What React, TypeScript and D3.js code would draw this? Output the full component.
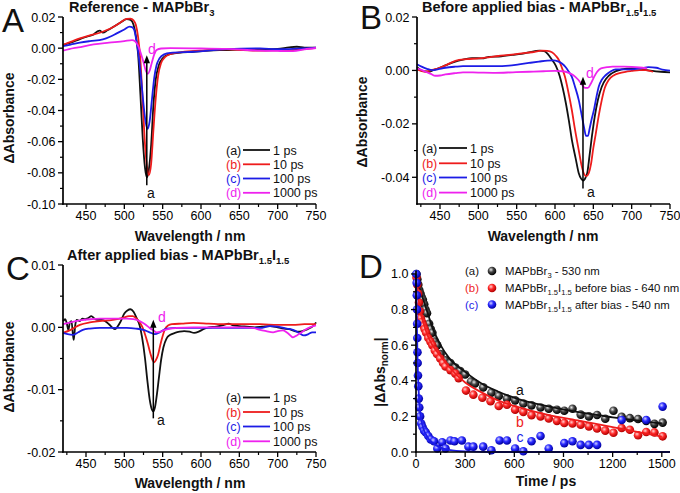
import React from "react";
import * as d3 from "d3";

const FONT = "'Liberation Sans', Arial, Helvetica, sans-serif";
const COL = ["#111111", "#ee1c1c", "#1c1ce6", "#ee22ee"];

type P = [number, number][];

// ---------- Panel A: Reference - MAPbBr3 ----------
const aBlack1ps: P = [[420,0.002],[430,0.0035],[442,0.0058],[452,0.0075],[460,0.0088],[465,0.0108],[468,0.0112],[472,0.0100],[478,0.0115],[486,0.0138],[495,0.0165],[503,0.0186],[508,0.0182],[512,0.0150],[515,0.0080],[518,-0.004],[521,-0.030],[524,-0.058],[527,-0.077],[529.5,-0.083],[532,-0.078],[535,-0.062],[538,-0.036],[541,-0.020],[545,-0.011],[550,-0.0065],[556,-0.0044],[570,-0.003],[590,-0.0023],[610,-0.0015],[633,-0.0012],[655,-0.0008],[677,-0.0008],[700,-0.0004],[715,0.0005],[725,0.0009],[735,0.0004],[750,0.0003]];
const aRed10ps: P = [[420,0.0022],[430,0.004],[442,0.0063],[455,0.0082],[468,0.0099],[478,0.0118],[486,0.0138],[495,0.0165],[503,0.0188],[508,0.0190],[512,0.0178],[515,0.0150],[518,0.007],[521,-0.008],[524,-0.035],[527,-0.062],[530,-0.078],[532,-0.0815],[535,-0.074],[538,-0.052],[541,-0.032],[544,-0.018],[548,-0.0095],[553,-0.0058],[560,-0.0038],[575,-0.0025],[600,-0.0016],[633,-0.0008],[655,-0.0012],[677,-0.0016],[700,-0.0014],[720,-0.0012],[735,-0.0006],[750,0.0001]];
const aBlue100ps: P = [[420,0.0013],[430,0.0023],[442,0.0035],[455,0.0045],[472,0.0056],[482,0.0075],[490,0.0095],[500,0.0120],[507,0.0138],[510,0.0135],[513,0.0115],[516,0.0040],[519,-0.006],[522,-0.020],[525,-0.036],[528,-0.048],[530.5,-0.0518],[533,-0.047],[536,-0.033],[539,-0.019],[542,-0.011],[546,-0.0065],[552,-0.004],[560,-0.003],[590,-0.0023],[633,-0.0006],[677,-0.0002],[700,-0.0006],[720,-0.0004],[750,0.0003]];
const aMag1000ps: P = [[420,-0.0016],[428,-0.0006],[440,0.0005],[460,0.0024],[480,0.0035],[500,0.0045],[510,0.0052],[514,0.0045],[518,0.0015],[522,-0.004],[525,-0.009],[528,-0.0145],[530.5,-0.0165],[533,-0.0145],[536,-0.009],[539,-0.004],[542,-0.0012],[548,-0.0002],[560,0.0],[600,-0.0002],[633,-0.0004],[677,-0.0016],[700,-0.0018],[720,-0.0019],[735,-0.0008],[750,0.0001]];

// ---------- Panel B: Before applied bias ----------
const bBlack1ps: P = [[420,0.0012],[427,-0.0002],[435,-0.0005],[442,0.0002],[448,0.0008],[458,0.002],[470,0.0033],[480,0.004],[492,0.0046],[505,0.0045],[514,0.0051],[530,0.0053],[544,0.0058],[556,0.0062],[566,0.0068],[580,0.0074],[586,0.0072],[591,0.006],[596,0.004],[601,0.0018],[606,-0.002],[610,-0.0065],[614,-0.012],[618,-0.0186],[622,-0.026],[627,-0.033],[631,-0.0385],[634,-0.0405],[637,-0.0412],[640,-0.040],[642,-0.0385],[645,-0.032],[648,-0.025],[652,-0.017],[656,-0.011],[661,-0.0061],[667,-0.003],[674,-0.0011],[687,0.0004],[700,0.0008],[710,0.0008],[718,0.0002],[727,-0.0002],[738,-0.0005],[750,-0.0007]];
const bRed10ps: P = [[420,0.0004],[431,-0.0005],[440,0.0002],[448,0.0008],[458,0.002],[470,0.0036],[485,0.0042],[500,0.0045],[515,0.005],[526,0.0054],[540,0.0058],[557,0.0064],[570,0.0068],[583,0.0074],[590,0.0073],[596,0.0068],[601,0.0055],[605,0.0039],[609,0.001],[613,-0.0024],[617,-0.0075],[622,-0.0149],[626,-0.022],[631,-0.0299],[635,-0.036],[638,-0.0388],[641,-0.0396],[644,-0.0385],[647,-0.035],[650,-0.029],[653,-0.024],[657,-0.017],[661,-0.0111],[665,-0.0065],[670,-0.0036],[677,-0.0018],[683,-0.0011],[692,-0.0005],[700,-0.0002],[710,0.0001],[718,0.0001],[728,-0.0005]];
const bBlue100ps: P = [[420,0.0023],[426,0.0014],[433,0.0006],[440,0.0001],[448,0.0005],[457,0.001],[470,0.0014],[480,0.0016],[500,0.0016],[522,0.0016],[540,0.0018],[553,0.0023],[566,0.0028],[579,0.0033],[590,0.0037],[598,0.0038],[604,0.0034],[609,0.0026],[614,0.0012],[618,-0.0005],[622,-0.0024],[626,-0.006],[631,-0.0111],[635,-0.017],[638,-0.0215],[640.5,-0.0245],[643,-0.0245],[645,-0.022],[648,-0.018],[651,-0.0145],[654,-0.010],[657,-0.0061],[661,-0.0035],[666,-0.0018],[672,-0.0005],[679,0.0004],[690,0.0004],[700,0.0004],[712,0.0008],[722,0.0012],[732,0.001],[740,0.0003],[750,-0.0001]];
const bMag1000ps: P = [[420,0.0008],[426,0.0002],[431,-0.0005],[438,-0.0013],[444,-0.002],[450,-0.0019],[457,-0.0015],[470,-0.001],[480,-0.0007],[500,-0.0008],[522,-0.0009],[545,-0.0007],[566,-0.0005],[585,-0.0003],[600,-0.0002],[610,-0.0003],[618,-0.0009],[624,-0.0018],[630,-0.0034],[635,-0.0052],[639,-0.0065],[643,-0.0065],[647,-0.0048],[651,-0.0024],[655,-0.0005],[660,0.0008],[668,0.0012],[675,0.0014],[690,0.0014],[700,0.0013],[710,0.0011],[720,0.0008]];

// ---------- Panel C: After applied bias ----------
const cBlack1ps: P = [[420,0.0010],[423,0.0013],[425,0.0006],[427,-0.0004],[429,0.0008],[431,0.0010],[433,-0.0012],[434,-0.0020],[436,0.0004],[438,0.0012],[442,0.0010],[445,0.0014],[449,0.0013],[453,0.0015],[457,0.0018],[461,0.0014],[465,0.0012],[470,0.0012],[475,0.0010],[480,0.0005],[484,0.0],[488,-0.0003],[491,0.0001],[495,0.0009],[500,0.0022],[504,0.0027],[508,0.0029],[512,0.0025],[516,0.0015],[520,0.0003],[523,-0.0015],[527,-0.0050],[530,-0.0085],[533,-0.0115],[536,-0.0132],[538,-0.0135],[540,-0.0128],[542,-0.0112],[545,-0.0082],[548,-0.0052],[551,-0.0032],[555,-0.0018],[560,-0.0012],[566,-0.0009],[572,-0.0007],[578,-0.0006],[585,-0.0007],[591,-0.0009],[597,-0.0007],[603,-0.0003],[610,0.0],[620,0.0001],[630,0.0004],[636,0.0006],[642,0.0003],[650,0.0002],[660,0.0001],[670,0.0],[680,0.0001],[690,0.0002],[700,0.0],[708,-0.0002],[715,-0.0003],[722,-0.0006],[728,-0.0007],[735,-0.0005],[742,-0.0001],[748,0.0004],[750,0.0008]];
const cRed10ps: P = [[420,-0.0009],[430,-0.0004],[442,0.0004],[455,0.0008],[468,0.001],[485,0.0012],[498,0.0015],[506,0.0018],[511,0.0018],[516,0.0014],[520,0.0008],[524,-0.0001],[528,-0.0015],[531,-0.0028],[534,-0.0042],[537,-0.0053],[539,-0.0056],[541,-0.0053],[544,-0.0044],[547,-0.0028],[550,-0.0014],[553,-0.0003],[557,0.0003],[562,0.0005],[575,0.0006],[590,0.0007],[610,0.0006],[633,0.0005],[655,0.0005],[677,0.0005],[700,0.0004],[720,0.0004],[735,0.0005],[750,0.0005]];
const cBlue100ps: P = [[420,-0.0009],[426,-0.0011],[433,-0.0012],[440,-0.0008],[446,-0.0004],[455,-0.0002],[468,-0.0001],[485,-0.0001],[503,-0.0001],[515,-0.0002],[525,-0.0004],[533,-0.0008],[540,-0.0011],[546,-0.0008],[555,-0.0002],[570,-0.0001],[590,-0.0001],[610,-0.0001],[633,-0.0001],[655,-0.0001],[677,-0.0001],[690,0.0002],[700,0.0001],[712,-0.0002],[720,-0.0004],[728,-0.0009],[734,-0.0013],[740,-0.0011],[745,-0.0008],[750,-0.0008]];
const cMag1000ps: P = [[420,0.0005],[430,0.0008],[442,0.0011],[455,0.0013],[468,0.0014],[485,0.0014],[503,0.0014],[512,0.0013],[520,0.001],[527,0.0005],[533,-0.0001],[538,-0.0005],[542,-0.0008],[547,-0.0007],[551,-0.0005],[560,-0.0002],[568,-0.0001],[590,0.0],[612,0.0],[633,0.0],[655,0.0],[668,-0.0001],[677,-0.0004],[685,-0.0006],[694,-0.0008],[700,-0.0006],[707,-0.0005],[713,-0.0009],[720,-0.0016],[725,-0.0013],[729,-0.001],[736,-0.0004],[742,0.0],[750,0.0003]];

// ---------- Panel D: kinetics ----------
const dBlackPts: P = [[3,1.0],[8,0.97],[14,0.94],[20,0.91],[27,0.89],[34,0.87],[42,0.855],[50,0.83],[58,0.8],[67,0.78],[80,0.72],[90,0.69],[100,0.67],[115,0.62],[130,0.6],[150,0.55],[180,0.515],[210,0.5],[240,0.475],[270,0.455],[300,0.435],[335,0.395],[360,0.385],[410,0.363],[460,0.333],[505,0.315],[555,0.3],[605,0.29],[655,0.272],[705,0.262],[760,0.25],[810,0.243],[860,0.237],[905,0.232],[955,0.243],[1005,0.21],[1055,0.2],[1105,0.208],[1155,0.187],[1205,0.232],[1255,0.198],[1305,0.19],[1355,0.185],[1405,0.175],[1455,0.158],[1505,0.165]];
const dBlackFit: P = [[0,1.0],[10,0.96],[25,0.91],[50,0.84],[75,0.77],[100,0.7],[150,0.6],[200,0.53],[300,0.45],[400,0.385],[500,0.34],[650,0.29],[800,0.258],[1000,0.222],[1200,0.195],[1500,0.16]];
const dRedPts: P = [[3,0.98],[8,0.94],[13,0.89],[18,0.84],[24,0.79],[30,0.75],[37,0.73],[45,0.71],[53,0.69],[62,0.67],[75,0.64],[88,0.62],[100,0.6],[115,0.57],[128,0.55],[148,0.525],[165,0.5],[180,0.48],[210,0.46],[240,0.44],[260,0.415],[305,0.345],[350,0.322],[405,0.305],[455,0.285],[505,0.258],[555,0.265],[605,0.238],[655,0.225],[705,0.207],[760,0.2],[810,0.188],[860,0.175],[905,0.163],[955,0.16],[1005,0.153],[1055,0.144],[1105,0.132],[1155,0.12],[1205,0.108],[1255,0.135],[1305,0.125],[1355,0.094],[1405,0.112],[1455,0.11],[1505,0.088]];
const dRedFit: P = [[0,0.98],[10,0.9],[25,0.8],[50,0.71],[75,0.645],[100,0.6],[150,0.54],[200,0.48],[300,0.39],[400,0.335],[500,0.29],[650,0.245],[800,0.21],[1000,0.175],[1200,0.14],[1500,0.087]];
const dBluePts: P = [[2,1.0],[4,0.95],[5,0.88],[6,0.8],[7,0.72],[8,0.64],[9,0.56],[10,0.5],[12,0.43],[14,0.37],[17,0.3],[20,0.25],[25,0.2],[32,0.16],[40,0.14],[50,0.12],[60,0.11],[75,0.09],[90,0.07],[110,0.06],[130,0.02],[160,0.055],[180,0.02],[210,0.065],[235,0.06],[280,0.065],[320,0.03],[350,0.03],[410,0.03],[460,0.01],[510,0.065],[555,0.065],[605,0.02],[655,0.004],[705,0.06],[760,0.09],[810,0.02],[905,0.05],[955,0.06],[1005,0.04],[1055,0.04],[1105,0.04],[1255,0.18],[1405,0.18],[1505,0.255]];
const dBlueFit: P = [[0,1.0],[3,0.85],[6,0.68],[10,0.5],[15,0.37],[20,0.28],[30,0.19],[45,0.13],[60,0.1],[80,0.07],[110,0.045],[150,0.025],[200,0.012],[300,0.003],[500,0.0],[1550,0.0]];

// ---------- ticks & labels ----------
const wavelengthTicks = [450, 500, 550, 600, 650, 700, 750];
const wavelengthMinor = [425, 475, 525, 575, 625, 675, 725];
const aYTicks = [0.02, 0, -0.02, -0.04, -0.06, -0.08, -0.1];
const aYMinor = [0.01, -0.01, -0.03, -0.05, -0.07, -0.09];
const bYTicks = [0.02, 0, -0.02, -0.04];
const bYMinor = [0.01, -0.01, -0.03];
const cYTicks = [0.01, 0, -0.01, -0.02];
const cYMinor = [0.005, -0.005, -0.015];
const timeTicks = [0, 300, 600, 900, 1200, 1500];
const timeMinor = [150, 450, 750, 1050, 1350];
const dYTicks = [0, 0.2, 0.4, 0.6, 0.8, 1.0];
const dYMinor = [0.1, 0.3, 0.5, 0.7, 0.9];
const seriesTags = ["(a)", "(b)", "(c)", "(d)"];
const delayLabels = ["1 ps", "10 ps", "100 ps", "1000 ps"];

type Scale = d3.ScaleLinear<number, number>;

function Axes({ x, y, xTicks, xMinor, yTicks, yMinor, xFmt, yFmt }: {
  x: Scale; y: Scale; xTicks: number[]; xMinor: number[]; yTicks: number[]; yMinor: number[];
  xFmt: (v: number) => string; yFmt: (v: number) => string;
}) {
  const [x0, x1] = x.range();
  const [yb, yt] = y.range();
  return (
    <g>
      <line x1={x0} x2={x0} y1={yb + 0.8} y2={yt} stroke="#000" strokeWidth={1.7} />
      <line x1={x0 - 0.8} x2={x1} y1={yb} y2={yb} stroke="#000" strokeWidth={1.7} />
      {yTicks.map((v) => (
        <g key={"y" + v}>
          <line x1={x0 - 5} x2={x0} y1={y(v)} y2={y(v)} stroke="#000" strokeWidth={1.3} />
          <text x={x0 - 7.5} y={y(v)} dy="0.36em" textAnchor="end" fontSize={12.5}>{yFmt(v)}</text>
        </g>
      ))}
      {yMinor.map((v) => (
        <line key={"ym" + v} x1={x0 - 3} x2={x0} y1={y(v)} y2={y(v)} stroke="#000" strokeWidth={1.2} />
      ))}
      {xTicks.map((v) => (
        <g key={"x" + v}>
          <line x1={x(v)} x2={x(v)} y1={yb} y2={yb + 5} stroke="#000" strokeWidth={1.3} />
          <text x={x(v)} y={yb + 15.5} textAnchor="middle" fontSize={12.5}>{xFmt(v)}</text>
        </g>
      ))}
      {xMinor.map((v) => (
        <line key={"xm" + v} x1={x(v)} x2={x(v)} y1={yb} y2={yb + 3} stroke="#000" strokeWidth={1.2} />
      ))}
    </g>
  );
}

function Arrow({ x, y1, y2 }: { x: number; y1: number; y2: number }) {
  return (
    <g>
      <line x1={x} x2={x} y1={y1} y2={y2 + 6} stroke="#000" strokeWidth={1.5} />
      <path d={`M${x},${y2} L${x - 3.2},${y2 + 8} L${x + 3.2},${y2 + 8} Z`} fill="#000" />
    </g>
  );
}

function SpecLegend({ tagX, lineX1, lineX2, textX, rows }: { tagX: number; lineX1: number; lineX2: number; textX: number; rows: number[] }) {
  return (
    <g fontSize={12.5}>
      {rows.map((cy, i) => (
        <g key={i}>
          <text x={tagX} y={cy} dy="0.36em" fill={COL[i]}>{seriesTags[i]}</text>
          <line x1={lineX1} x2={lineX2} y1={cy} y2={cy} stroke={COL[i]} strokeWidth={1.8} />
          <text x={textX} y={cy} dy="0.36em" fill="#111">{delayLabels[i]}</text>
        </g>
      ))}
    </g>
  );
}

function Lines({ x, y, series }: { x: Scale; y: Scale; series: P[] }) {
  const gen = d3.line<[number, number]>().x((d) => x(d[0])).y((d) => y(d[1])).curve(d3.curveMonotoneX);
  return (
    <g>
      {series.map((s, i) => (
        <path key={i} d={gen(s) || ""} fill="none" stroke={COL[i]} strokeWidth={1.8} strokeLinejoin="round" />
      ))}
    </g>
  );
}

const fmt2 = (v: number) => v.toFixed(2);
const fmt1 = (v: number) => v.toFixed(1);
const fmt0 = (v: number) => String(v);

export default function App() {
  const xA = d3.scaleLinear().domain([420, 750]).range([63, 316]);
  const yA = d3.scaleLinear().domain([-0.1, 0.02]).range([204, 17]);
  const xB = d3.scaleLinear().domain([420, 750]).range([417, 670]);
  const yB = d3.scaleLinear().domain([-0.05, 0.02]).range([204, 17]);
  const xC = d3.scaleLinear().domain([420, 750]).range([63, 316]);
  const yC = d3.scaleLinear().domain([-0.02, 0.01]).range([452, 265]);
  const xD = d3.scaleLinear().domain([0, 1550]).range([416, 670]);
  const yD = d3.scaleLinear().domain([0, 1.02]).range([452, 270.4]);

  const fitGen = d3.line<[number, number]>().x((d) => xD(d[0])).y((d) => yD(d[1])).curve(d3.curveMonotoneX);
  const dSets = [
    { pts: dBlackPts, fit: dBlackFit, grad: "gBlack", col: COL[0] },
    { pts: dRedPts, fit: dRedFit, grad: "gRed", col: COL[1] },
    { pts: dBluePts, fit: dBlueFit, grad: "gBlue", col: COL[2] },
  ];

  const subStyle = { fontSize: 9.5 } as const;
  const legSub = 7.6;

  return (
    <svg width={680} height={493} style={{ position: "absolute", left: 0, top: 0, display: "block" }} fontFamily={FONT}>
      <defs>
        <radialGradient id="gBlack" cx="0.38" cy="0.35" r="0.65">
          <stop offset="0" stopColor="#e8e8e8" />
          <stop offset="0.45" stopColor="#444" />
          <stop offset="1" stopColor="#000" />
        </radialGradient>
        <radialGradient id="gRed" cx="0.38" cy="0.35" r="0.65">
          <stop offset="0" stopColor="#ffd0d0" />
          <stop offset="0.45" stopColor="#ff2a2a" />
          <stop offset="1" stopColor="#b00000" />
        </radialGradient>
        <radialGradient id="gBlue" cx="0.38" cy="0.35" r="0.65">
          <stop offset="0" stopColor="#d0d0ff" />
          <stop offset="0.45" stopColor="#2a2aff" />
          <stop offset="1" stopColor="#0000a0" />
        </radialGradient>
      </defs>
      <rect width={680} height={493} fill="#fff" />

      {/* Panel letters */}
      <text x={2} y={32} fontSize={33} fill="#111">A</text>
      <text x={360} y={29} fontSize={33} fill="#111">B</text>
      <text x={6} y={280} fontSize={33} fill="#111">C</text>
      <text x={359} y={278} fontSize={33} fill="#111">D</text>

      {/* Titles */}
      <text x={69} y={11.5} fontSize={14.5} fontWeight="bold" fill="#111">
        Reference - MAPbBr<tspan style={subStyle} dy={4}>3</tspan>
      </text>
      <text x={422} y={12} fontSize={14.5} fontWeight="bold" fill="#111">
        Before applied bias - MAPbBr<tspan style={subStyle} dy={4}>1.5</tspan>
        <tspan dy={-4}>I</tspan><tspan style={subStyle} dy={4}>1.5</tspan>
      </text>
      <text x={67} y={260} fontSize={14.5} fontWeight="bold" fill="#111">
        After applied bias - MAPbBr<tspan style={subStyle} dy={4}>1.5</tspan>
        <tspan dy={-4}>I</tspan><tspan style={subStyle} dy={4}>1.5</tspan>
      </text>

      {/* Axis titles */}
      <text transform="translate(14,118) rotate(-90)" textAnchor="middle" fontSize={14} fontWeight="bold" fill="#111">ΔAbsorbance</text>
      <text transform="translate(367,122) rotate(-90)" textAnchor="middle" fontSize={14} fontWeight="bold" fill="#111">ΔAbsorbance</text>
      <text transform="translate(14,367) rotate(-90)" textAnchor="middle" fontSize={14} fontWeight="bold" fill="#111">ΔAbsorbance</text>
      <text transform="translate(385,372) rotate(-90)" textAnchor="middle" fontSize={14} fontWeight="bold" fill="#111">
        |ΔAbs<tspan fontSize={10} dy={3}>norm</tspan><tspan dy={-3}>|</tspan>
      </text>
      <text x={190} y={241} textAnchor="middle" fontSize={14} fontWeight="bold" fill="#111">Wavelength / nm</text>
      <text x={543} y={241} textAnchor="middle" fontSize={14} fontWeight="bold" fill="#111">Wavelength / nm</text>
      <text x={190} y={488} textAnchor="middle" fontSize={14} fontWeight="bold" fill="#111">Wavelength / nm</text>
      <text x={546} y={486} textAnchor="middle" fontSize={14} fontWeight="bold" fill="#111">Time / ps</text>

      {/* Panel A */}
      <Lines x={xA} y={yA} series={[aBlack1ps, aRed10ps, aBlue100ps, aMag1000ps]} />
      <Arrow x={xA(529.3)} y1={yA(-0.088)} y2={yA(-0.0045)} />
      <text x={151} y={193} dy="0.36em" textAnchor="middle" fontSize={14} fill="#111">a</text>
      <text x={152} y={49} dy="0.36em" textAnchor="middle" fontSize={14} fill={COL[3]}>d</text>
      <SpecLegend tagX={226} lineX1={243} lineX2={270} textX={273} rows={[150, 164.3, 178.5, 192.8]} />
      <Axes x={xA} y={yA} xTicks={wavelengthTicks} xMinor={wavelengthMinor} yTicks={aYTicks} yMinor={aYMinor} xFmt={fmt0} yFmt={fmt2} />

      {/* Panel B */}
      <Lines x={xB} y={yB} series={[bBlack1ps, bRed10ps, bBlue100ps, bMag1000ps]} />
      <Arrow x={xB(636.5)} y1={yB(-0.0442)} y2={yB(-0.0024)} />
      <text x={591} y={192} dy="0.36em" textAnchor="middle" fontSize={14} fill="#111">a</text>
      <text x={590} y={73} dy="0.36em" textAnchor="middle" fontSize={14} fill={COL[3]}>d</text>
      <SpecLegend tagX={422} lineX1={439} lineX2={467} textX={470} rows={[148, 163.3, 177.5, 192.6]} />
      <Axes x={xB} y={yB} xTicks={wavelengthTicks} xMinor={wavelengthMinor} yTicks={bYTicks} yMinor={bYMinor} xFmt={fmt0} yFmt={fmt2} />

      {/* Panel C */}
      <Lines x={xC} y={yC} series={[cBlack1ps, cRed10ps, cBlue100ps, cMag1000ps]} />
      <Arrow x={xC(537.8)} y1={yC(-0.0146)} y2={yC(0.0012)} />
      <text x={161} y={420} dy="0.36em" textAnchor="middle" fontSize={14} fill="#111">a</text>
      <text x={162} y={317} dy="0.36em" textAnchor="middle" fontSize={14} fill={COL[3]}>d</text>
      <SpecLegend tagX={226} lineX1={243} lineX2={270} textX={273} rows={[397.5, 412, 426.5, 441.3]} />
      <Axes x={xC} y={yC} xTicks={wavelengthTicks} xMinor={wavelengthMinor} yTicks={cYTicks} yMinor={cYMinor} xFmt={fmt0} yFmt={fmt2} />

      {/* Panel D */}
      {dSets.map((s, i) => (
        <g key={i}>
          {s.pts.map((p, j) => (
            <circle key={j} cx={xD(p[0])} cy={yD(p[1])} r={4.3} fill={`url(#${s.grad})`} />
          ))}
          <path d={fitGen(s.fit) || ""} fill="none" stroke={s.col} strokeWidth={1.8} />
        </g>
      ))}
      <text x={520} y={390} dy="0.36em" textAnchor="middle" fontSize={14} fill="#111">a</text>
      <text x={520} y={421.5} dy="0.36em" textAnchor="middle" fontSize={14} fill={COL[1]}>b</text>
      <text x={520} y={436.5} dy="0.36em" textAnchor="middle" fontSize={14} fill={COL[2]}>c</text>
      <g fontSize={11.4}>
        {[0, 1, 2].map((i) => {
          const cy = [271, 288, 304.5][i];
          return (
            <g key={i}>
              <text x={465} y={cy} dy="0.36em" fill={COL[i]}>{seriesTags[i]}</text>
              <circle cx={492} cy={cy} r={4.3} fill={`url(#${dSets[i].grad})`} />
            </g>
          );
        })}
        <text x={505} y={271} dy="0.36em" fill="#111">MAPbBr<tspan fontSize={legSub} dy={3}>3</tspan><tspan dy={-3}> - 530 nm</tspan></text>
        <text x={505} y={288} dy="0.36em" fill="#111">MAPbBr<tspan fontSize={legSub} dy={3}>1.5</tspan><tspan dy={-3}>I</tspan><tspan fontSize={legSub} dy={3}>1.5</tspan><tspan dy={-3}> before bias - 640 nm</tspan></text>
        <text x={505} y={304.5} dy="0.36em" fill="#111">MAPbBr<tspan fontSize={legSub} dy={3}>1.5</tspan><tspan dy={-3}>I</tspan><tspan fontSize={legSub} dy={3}>1.5</tspan><tspan dy={-3}> after bias - 540 nm</tspan></text>
      </g>
      <Axes x={xD} y={yD} xTicks={timeTicks} xMinor={timeMinor} yTicks={dYTicks} yMinor={dYMinor} xFmt={fmt0} yFmt={fmt1} />
    </svg>
  );
}
